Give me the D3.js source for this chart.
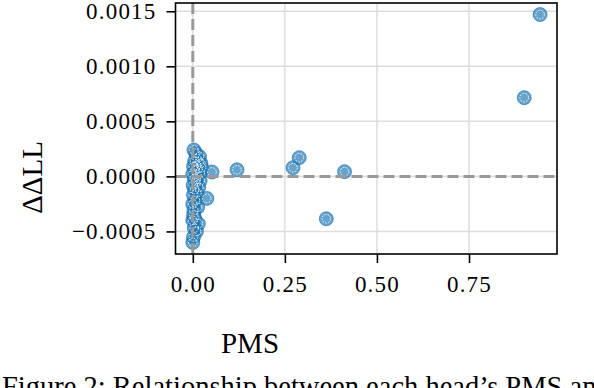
<!DOCTYPE html>
<html>
<head>
<meta charset="utf-8">
<script src="https://cdn.jsdelivr.net/npm/d3@7"></script>
<style>
  body { margin: 0; background: #fff; }
  svg { display: block; }
  .tick-label { font-family: "Liberation Serif", serif; font-size: 23px; letter-spacing: 1.2px; fill: #000; }
  .axis-title { font-family: "Liberation Serif", serif; font-size: 29px; fill: #000; }
  .caption { font-family: "Liberation Serif", serif; font-size: 28.5px; fill: #000; }
</style>
</head>
<body>
<svg width="594" height="388"></svg>
<script>
// ---- data ----
var pms = [
  0.943, 0.900, 0.412, 0.3625, 0.289, 0.272, 0.120, 0.052, 0.038,
  0.003, 0.008, 0.018, 0.012, 0.005, 0.022, 0.010, 0.002, 0.015, 0.006,
  0.000, 0.012, 0.004, 0.020, 0.008, 0.001, 0.016, 0.005, 0.011, 0.002,
  0.007, 0.000, 0.013, 0.003, 0.015, 0.002, 0.005, 0.000, 0.004, 0.010,
  0.002, 0.000, 0.009, 0.017, 0.024, 0.020
];
var ddll = [
  0.00147, 0.000715, 0.000043, -0.000385, 0.00017, 0.000079, 0.000060, 0.00004, -0.00020,
  0.00024, 0.00021, 0.00018, 0.00016, 0.00014, 0.00012, 0.00010, 0.00009, 0.00007, 0.00005,
  0.00002, 0.00000, -0.00002, -0.00004, -0.00006, -0.00008, -0.00010, -0.00012, -0.00015, -0.00017,
  -0.00022, -0.00025, -0.00028, -0.00031, -0.00043, -0.00035, -0.00038, -0.00040, -0.00047, -0.00050,
  -0.00055, -0.00060, -0.00003, 0.00013, 0.00008, 0.00003
];
var xTicks = [0, 0.25, 0.5, 0.75];
var xTickLabels = ["0.00", "0.25", "0.50", "0.75"];
var yTicks = [-0.0005, 0, 0.0005, 0.0010, 0.0015];
var yTickLabels = ["\u22120.0005", "0.0000", "0.0005", "0.0010", "0.0015"];

var svg = d3.select("svg");

// plot area
var plotL = 175.5, plotR = 557, plotT = 3, plotB = 254;

var x = d3.scaleLinear().domain([-0.047, 0.989]).range([plotL, plotR]);
var y = d3.scaleLinear().domain([-0.000705, 0.001575]).range([plotB, plotT]);

// grid
svg.append("g").selectAll("line").data(xTicks).enter().append("line")
  .attr("x1", d => x(d)).attr("x2", d => x(d))
  .attr("y1", plotT).attr("y2", plotB)
  .attr("stroke", "#dddddd").attr("stroke-width", 1.5);
svg.append("g").selectAll("line").data(yTicks).enter().append("line")
  .attr("x1", plotL).attr("x2", plotR)
  .attr("y1", d => y(d)).attr("y2", d => y(d))
  .attr("stroke", "#dddddd").attr("stroke-width", 1.5);

// points
var pts = pms.map((p, i) => ({x: p, y: ddll[i]}));
var g = svg.append("g");
g.selectAll("circle.dot").data(pts).enter().append("circle")
  .attr("class", "dot")
  .attr("cx", d => x(d.x)).attr("cy", d => y(d.y))
  .attr("r", 7)
  .attr("fill", "#1f77b4").attr("fill-opacity", 0.68)
  .attr("stroke", "#1f77b4").attr("stroke-opacity", 0.68).attr("stroke-width", 1);
g.selectAll("circle.ring").data(pts).enter().append("circle")
  .attr("class", "ring")
  .attr("cx", d => x(d.x)).attr("cy", d => y(d.y))
  .attr("r", 4.3)
  .attr("fill", "none")
  .attr("stroke", "#fff").attr("stroke-width", 0.9)
  .attr("stroke-dasharray", "1.6,1.4");

// dashed reference lines at zero
svg.append("line")
  .attr("x1", x(0)).attr("x2", x(0)).attr("y1", plotT).attr("y2", plotB)
  .attr("stroke", "#999").attr("stroke-width", 3).attr("stroke-dasharray", "11,5");
svg.append("line")
  .attr("x1", plotL).attr("x2", plotR).attr("y1", y(0)).attr("y2", y(0))
  .attr("stroke", "#999").attr("stroke-width", 3).attr("stroke-dasharray", "11,5");

// frame
svg.append("rect")
  .attr("x", plotL).attr("y", plotT).attr("width", plotR - plotL).attr("height", plotB - plotT)
  .attr("fill", "none").attr("stroke", "#000").attr("stroke-width", 1.6);

// axes
var xAxis = d3.axisBottom(x).tickValues(xTicks).tickSize(9)
  .tickFormat((d, i) => xTickLabels[i]).tickPadding(7);
var yAxis = d3.axisLeft(y).tickValues(yTicks).tickSize(9)
  .tickFormat((d, i) => yTickLabels[i]).tickPadding(10);

var gx = svg.append("g").attr("transform", "translate(0," + plotB + ")").call(xAxis);
var gy = svg.append("g").attr("transform", "translate(" + plotL + ",0)").call(yAxis);
[gx, gy].forEach(function(a) {
  a.select(".domain").remove();
  a.selectAll(".tick line").attr("stroke", "#000").attr("stroke-width", 1.6);
  a.selectAll(".tick text").attr("class", "tick-label").attr("font-family", null).attr("font-size", null);
});
gx.selectAll(".tick text").attr("dy", "0.95em");

// axis titles
svg.append("text").attr("class", "axis-title")
  .attr("x", 250).attr("y", 353).attr("text-anchor", "middle").text("PMS");
svg.append("text").attr("class", "axis-title")
  .attr("transform", "translate(42,177.5) rotate(-90)")
  .attr("text-anchor", "middle").text("\u0394\u0394LL");

// caption (cut off by the frame, as in the figure)
svg.append("text").attr("class", "caption")
  .attr("x", 2).attr("y", 396).text("Figure 2: Relationship between each head\u2019s PMS and");
</script>
</body>
</html>
